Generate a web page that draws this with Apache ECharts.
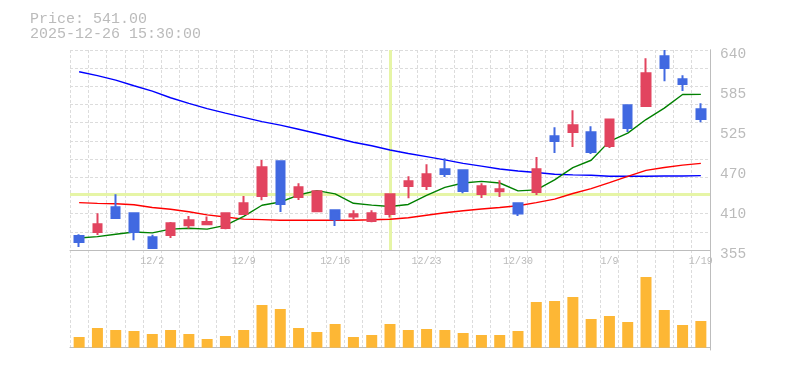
<!DOCTYPE html>
<html><head><meta charset="utf-8">
<script src="https://cdn.jsdelivr.net/npm/echarts@6/dist/echarts.min.js"></script>
<style>html,body{margin:0;padding:0;background:#fff}#c{width:785px;height:370px}</style>
</head><body><div id="c"></div>
<script>
const dates = ['11/26','11/27','11/28','12/1','12/2','12/3','12/4','12/5','12/8','12/9','12/10','12/11','12/12','12/15','12/16','12/17','12/18','12/19','12/22','12/23','12/24','12/25','12/26','12/29','12/30','1/5','1/6','1/7','1/8','1/9','1/13','1/14','1/15','1/16','1/19'];
const opens  = [375.0,380.7,415.8,407.3,373.1,376.4,390.2,391.6,386.4,406.3,432.0,481.4,430.5,410.2,411.6,402.6,396.3,406.3,446.2,446.2,470.0,468.6,434.8,438.7,421.5,437.7,517.0,523.2,522.7,503.2,561.2,560.2,631.0,598.3,555.5];
const closes = [366.4,391.6,400.6,380.7,357.9,393.0,397.3,394.9,407.3,421.5,472.8,420.6,444.4,438.7,398.8,405.9,407.3,434.4,452.9,462.9,463.3,439.1,445.8,441.5,406.9,470.0,510.3,532.7,494.7,541.0,528.9,606.8,614.4,591.6,541.7];
const lows   = [359.3,376.4,400.6,368.8,357.9,372.1,385.5,390.6,384.5,406.3,425.8,409.2,426.3,408.7,389.2,398.8,394.5,401.2,428.7,440.5,459.0,435.8,429.1,430.5,403.5,433.4,493.2,501.8,491.8,500.4,523.2,560.2,595.4,581.6,537.0];
const highs  = [377.4,407.3,434.4,408.3,376.9,394.9,403.5,402.6,407.3,432.0,483.3,481.4,450.0,440.1,413.0,411.6,411.6,434.4,460.0,477.1,485.7,470.0,450.0,454.3,423.0,487.5,529.8,554.1,531.3,541.0,561.2,628.2,640.0,604.0,564.0];
const volumes = [10.7,19.7,17.7,16.7,13.7,17.7,13.7,8.7,11.7,17.7,42.7,38.7,19.7,15.7,23.7,10.7,12.7,23.7,17.7,18.7,17.7,14.7,12.7,12.7,16.7,45.7,46.7,50.7,28.7,31.7,25.7,70.7,37.7,22.7,26.7];
const ma5  = [372.1,374.1,377.4,380.6,379.4,384.7,385.9,384.7,390.1,402.8,418.8,423.4,433.3,439.6,435.0,421.6,419.0,417.0,419.9,432.7,444.2,450.5,452.8,450.5,439.3,440.7,454.9,472.3,482.9,509.8,521.6,540.9,557.2,576.6,576.7];
const ma25 = [422.5,421.5,421.0,419.5,415.5,413.0,409.5,405.0,402.0,399.0,398.3,397.3,397.3,397.3,397.3,397.5,398.0,398.8,401.0,404.5,408.0,411.0,413.5,415.5,418.0,422.5,427.5,435.5,442.5,451.0,460.0,468.5,472.5,476.0,478.5];
const ma75 = [609.0,603.5,597.0,589.0,581.5,572.0,564.0,556.5,550.0,544.0,538.0,533.0,527.0,521.0,515.0,508.5,503.5,497.5,492.5,488.0,483.5,478.5,474.5,470.5,467.5,465.5,463.0,462.0,461.5,460.0,460.0,460.0,460.5,460.5,461.0];
const priceTicks = [355,412,469,526,583,640];
const priceTickLabels = ['355','410','470','525','585','640'];
const xTickLabels = ['12/2','12/9','12/16','12/23','12/30','1/9','1/19'];
const crossDate = '12/19';
const crossPrice = 434.4;
const priceText = 'Price: 541.00';
const timeText = '2025-12-26 15:30:00';

const UP = '#e2445f', DOWN = '#4169e1', GRIDC = '#dcdcdc', AXC = '#bdbdbd', TXT = '#bbbbbb';
const MONO = '"Liberation Mono", "DejaVu Sans Mono", monospace';

const chart = echarts.init(document.getElementById('c'), null, {renderer:'canvas'});
chart.setOption({
  animation: false,
  backgroundColor: '#ffffff',
  graphic: [
    {type:'text', left:30, top:11.5, style:{text:priceText, fill:TXT, font:'15px ' + MONO}},
    {type:'text', left:30, top:27, style:{text:timeText, fill:TXT, font:'15px ' + MONO}}
  ],
  grid: [
    {left:70, right:75, top:50, height:200},
    {left:70, right:75, top:260, height:90},
    {left:70, right:75, top:50, height:300}
  ],
  xAxis: [
    {type:'category', gridIndex:0, data:dates, boundaryGap:true,
     axisLine:{lineStyle:{color:AXC}}, axisTick:{show:false}, splitLine:{show:false},
     axisLabel:{interval:(i, v) => xTickLabels.includes(v), color:TXT, fontFamily:MONO, fontSize:10, margin:6}},
    {type:'category', gridIndex:1, data:dates, boundaryGap:true,
     axisLine:{lineStyle:{color:AXC}}, axisTick:{show:false}, axisLabel:{show:false}, splitLine:{show:false}},
    {type:'category', gridIndex:2, data:dates, boundaryGap:true,
     axisLine:{show:false}, axisTick:{show:false}, axisLabel:{show:false},
     splitLine:{show:true, interval:0, lineStyle:{color:GRIDC, width:1, type:[3,2]}}}
  ],
  yAxis: [
    {type:'value', gridIndex:0, position:'right', min:355, max:640,
     axisLine:{show:true, lineStyle:{color:AXC}}, axisTick:{show:false}, splitLine:{show:false},
     axisLabel:{customValues:priceTicks, formatter:(v) => { const k = priceTicks.indexOf(v); return k >= 0 ? priceTickLabels[k] : ''; },
       color:TXT, fontFamily:MONO, fontSize:14.5, margin:10, verticalAlign:'top', lineHeight:8}},
    {type:'value', gridIndex:0, position:'left', min:0, max:11, interval:1,
     axisLine:{show:false}, axisTick:{show:false}, axisLabel:{show:false},
     splitLine:{show:true, lineStyle:{color:GRIDC, width:1, type:[3,2]}}},
    {type:'value', gridIndex:1, position:'right', min:-2.3, max:87.7,
     axisLine:{show:false}, axisTick:{show:false}, axisLabel:{show:false}, splitLine:{show:false}},
    {type:'value', gridIndex:2, position:'right', min:0, max:1,
     axisLine:{show:true, lineStyle:{color:AXC}}, axisTick:{show:false}, axisLabel:{show:false}, splitLine:{show:false}}
  ],
  series: [
    {type:'line', xAxisIndex:0, yAxisIndex:0, data:[], z:1, silent:true,
     markLine:{silent:true, z:1, symbol:['none','none'], label:{show:false},
       lineStyle:{color:'#e6f5a6', width:3, type:'solid'},
       data:[{xAxis:crossDate}, {yAxis:crossPrice}]}},
    {type:'line', xAxisIndex:0, yAxisIndex:0, data:ma75, symbol:'none', z:3, lineStyle:{color:'#0000ff', width:1.4}},
    {type:'line', xAxisIndex:0, yAxisIndex:0, data:ma25, symbol:'none', z:3, lineStyle:{color:'#ff0000', width:1.4}},
    {type:'line', xAxisIndex:0, yAxisIndex:0, data:ma5, symbol:'none', z:3, lineStyle:{color:'#008000', width:1.4}},
    {type:'candlestick', xAxisIndex:0, yAxisIndex:0, z:5, barWidth:9,
     data: dates.map((d, i) => [opens[i], closes[i], lows[i], highs[i]]),
     itemStyle:{color:UP, color0:DOWN, borderColor:UP, borderColor0:DOWN, borderWidth:2}},
    {type:'bar', xAxisIndex:1, yAxisIndex:2, data:volumes, barWidth:11, itemStyle:{color:'#fdb735'}}
  ]
});
</script></body></html>
